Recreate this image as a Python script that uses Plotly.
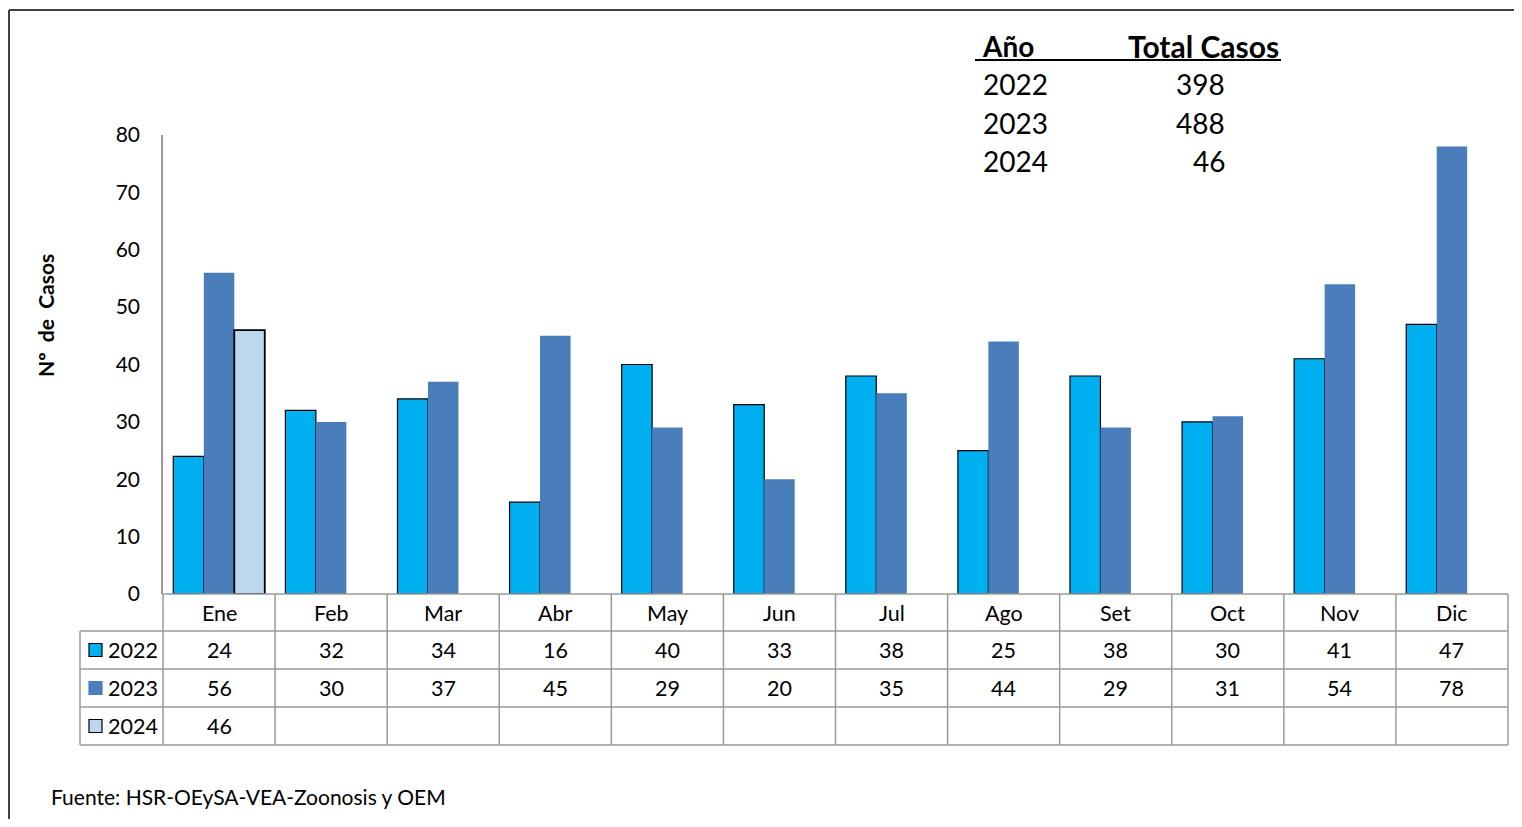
import plotly.graph_objects as go

months = ["Ene", "Feb", "Mar", "Abr", "May", "Jun", "Jul", "Ago", "Set", "Oct", "Nov", "Dic"]
cases_2022 = [24, 32, 34, 16, 40, 33, 38, 25, 38, 30, 41, 47]
cases_2023 = [56, 30, 37, 45, 29, 20, 35, 44, 29, 31, 54, 78]
cases_2024 = [46, None, None, None, None, None, None, None, None, None, None, None]
years = ["2022", "2023", "2024"]
totals = [398, 488, 46]
y_ticks = [0, 10, 20, 30, 40, 50, 60, 70, 80]

colors = ["#00B0F0", "#4A7EBB", "#BDD7EE"]
outline = [dict(color="black", width=1.2), dict(color="#4A7EBB", width=0), dict(color="black", width=1.8)]
series = [cases_2022, cases_2023, cases_2024]

# page body has an 8px margin, so the figure is drawn smaller and shifted
OFF = 8
W, H = 1522 - 2 * OFF, 827 - 2 * OFF
L, R, T, B = 163 - OFF, 1508 - OFF, 135 - OFF, 594 - OFF
FONT = "Lato"

def px(x):
    return (x - OFF - L) / (R - L)

def py(y):
    return (B - (y - OFF)) / (B - T)

fig = go.Figure()
for name, vals, c, ol in zip(years, series, colors, outline):
    fig.add_trace(go.Bar(x=list(range(len(months))), y=vals, name=name,
                         marker=dict(color=c, line=ol), showlegend=False))

shapes = []
annotations = []
grey = "#9A9A9A"
TS = 21.5

# data table grid
row_lines = [594, 631, 669, 707, 745]
for i, yl in enumerate(row_lines):
    x0 = 163 if i == 0 else 80
    shapes.append(dict(type="line", xref="paper", yref="paper", x0=px(x0), x1=1,
                       y0=py(yl), y1=py(yl), line=dict(color=grey, width=1.5)))
shapes.append(dict(type="line", xref="paper", yref="paper", x0=px(80), x1=px(80),
                   y0=py(631), y1=py(745), line=dict(color=grey, width=1.5)))
for i in range(len(months) + 1):
    shapes.append(dict(type="line", xref="paper", yref="paper", x0=i / len(months), x1=i / len(months),
                       y0=py(594), y1=py(745), line=dict(color=grey, width=1.5)))

row_centers = [612.5, 650, 688, 726]
for i, m in enumerate(months):
    annotations.append(dict(x=i, y=py(row_centers[0]), xref="x", yref="paper", text=m,
                            showarrow=False, font=dict(size=TS, color="black", family=FONT),
                            xanchor="center", yanchor="middle"))
    for r, vals in enumerate(series):
        v = vals[i]
        if v is not None:
            annotations.append(dict(x=i, y=py(row_centers[r + 1]), xref="x", yref="paper", text=str(v),
                                    showarrow=False, font=dict(size=TS, color="black", family=FONT),
                                    xanchor="center", yanchor="middle"))

# legend keys inside table
for r, (yr, c) in enumerate(zip(years, colors)):
    yc = row_centers[r + 1]
    lc = "black" if r != 1 else c
    shapes.append(dict(type="rect", xref="paper", yref="paper", x0=px(89), x1=px(102),
                       y0=py(yc + 6.5), y1=py(yc - 6.5), fillcolor=c, line=dict(color=lc, width=1.2)))
    annotations.append(dict(x=px(106), y=py(yc), xref="paper", yref="paper", text=yr,
                            showarrow=False, font=dict(size=TS, color="black", family=FONT),
                            xanchor="left", yanchor="middle"))

# y axis title
annotations.append(dict(x=px(45), y=py(316), xref="paper", yref="paper", text="<b>Nº  de  Casos</b>",
                        textangle=-90, showarrow=False, font=dict(size=21, color="black", family=FONT),
                        xanchor="center", yanchor="middle"))

# totals box
annotations.append(dict(x=px(980), y=py(46), xref="paper", yref="paper", text="<b>Año</b>",
                        showarrow=False, font=dict(size=28, color="black", family=FONT),
                        xanchor="left", yanchor="middle"))
annotations.append(dict(x=px(1281), y=py(46), xref="paper", yref="paper", text="<b>Total Casos</b>",
                        showarrow=False, font=dict(size=30, color="black", family=FONT),
                        xanchor="right", yanchor="middle"))
shapes.append(dict(type="line", xref="paper", yref="paper", x0=px(975), x1=px(1281),
                   y0=py(60), y1=py(60), line=dict(color="black", width=2)))
for r, (yr, tot) in enumerate(zip(years, totals)):
    yc = [84, 123, 161][r]
    annotations.append(dict(x=px(981), y=py(yc), xref="paper", yref="paper", text=yr,
                            showarrow=False, font=dict(size=28, color="black", family=FONT),
                            xanchor="left", yanchor="middle"))
    annotations.append(dict(x=px(1227), y=py(yc), xref="paper", yref="paper", text=str(tot),
                            showarrow=False, font=dict(size=28, color="black", family=FONT),
                            xanchor="right", yanchor="middle"))

# source
annotations.append(dict(x=px(49), y=py(796), xref="paper", yref="paper",
                        text="Fuente: HSR-OEySA-VEA-Zoonosis y OEM",
                        showarrow=False, font=dict(size=21, color="black", family=FONT),
                        xanchor="left", yanchor="middle"))

# outer frame (top and left)
shapes.append(dict(type="line", xref="paper", yref="paper", x0=px(9), x1=px(1540),
                   y0=py(10), y1=py(10), line=dict(color="#404040", width=2)))
shapes.append(dict(type="line", xref="paper", yref="paper", x0=px(9), x1=px(9),
                   y0=py(10), y1=py(850), line=dict(color="#404040", width=2)))

fig.update_layout(
    width=W, height=H,
    margin=dict(l=L, r=W - R, t=T, b=H - B, pad=0),
    paper_bgcolor="white", plot_bgcolor="white",
    barmode="group", bargap=0.184, bargroupgap=0,
    font=dict(family=FONT, color="black"),
    xaxis=dict(range=[-0.5, len(months) - 0.5], showticklabels=False, showgrid=False,
               zeroline=False, showline=False, ticks=""),
    yaxis=dict(range=[0, 80], tickvals=y_ticks, showgrid=False, zeroline=False,
               showline=True, linecolor=grey, linewidth=1.5, ticks="", ticklabelstandoff=17,
               tickfont=dict(size=21, color="black", family=FONT)),
    shapes=shapes, annotations=annotations,
)

fig.write_html("out.html")
